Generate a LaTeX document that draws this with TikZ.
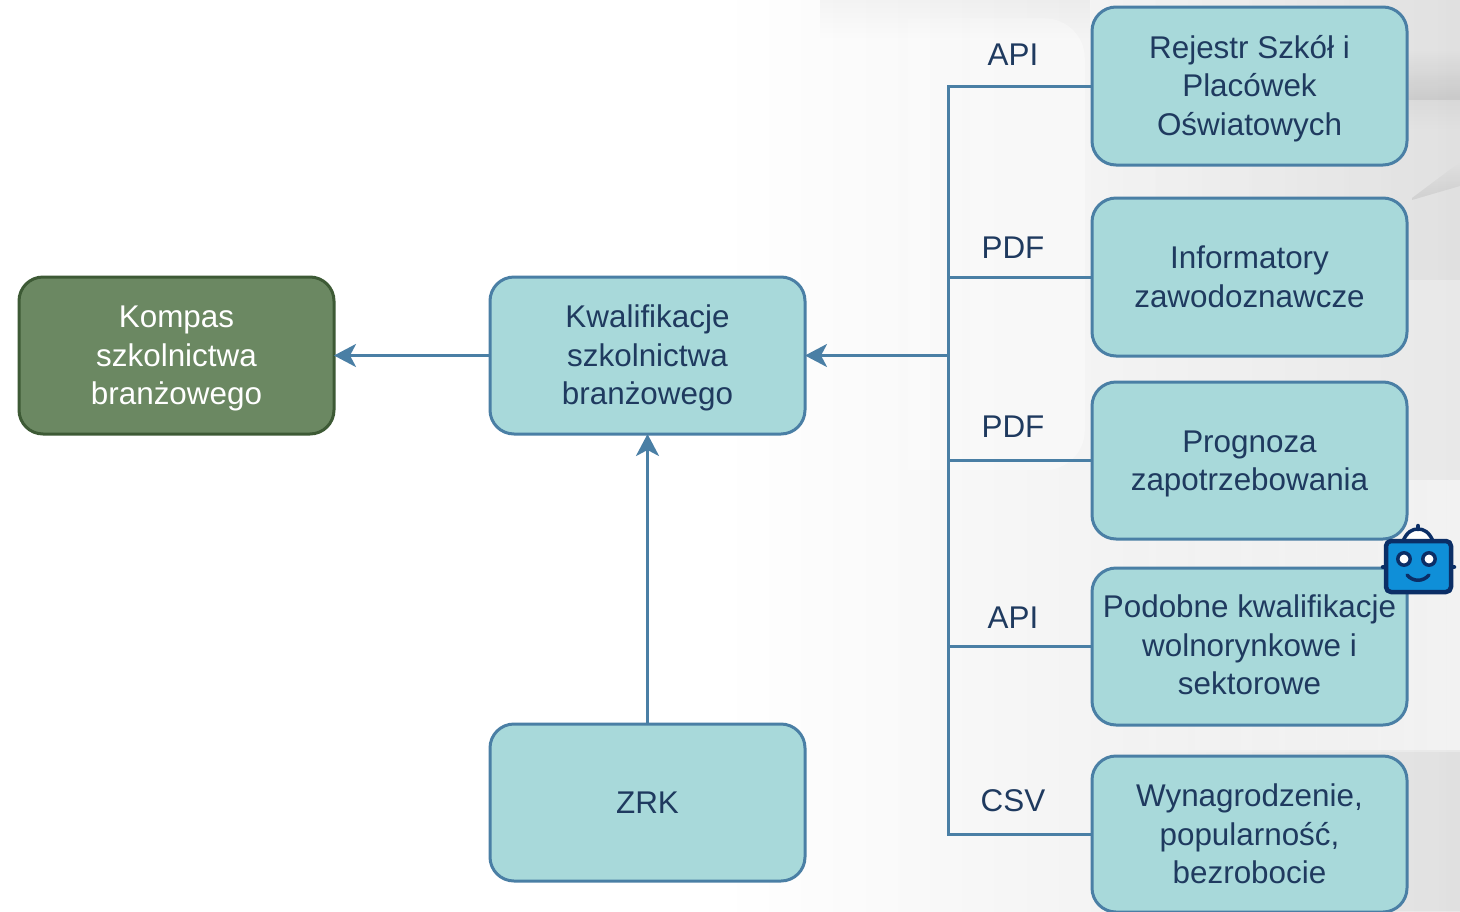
\documentclass[tikz,border=0pt]{standalone}
\usepackage{fontspec}
\setmainfont{Liberation Sans}
\usetikzlibrary{arrows.meta,fadings}
\definecolor{boxfill}{HTML}{A8D9DA}
\definecolor{boxline}{HTML}{4A7FA5}
\definecolor{txt}{HTML}{1F3A5F}
\definecolor{greenfill}{HTML}{6B8862}
\definecolor{greenline}{HTML}{3D5A35}
\definecolor{robotblue}{HTML}{0F8FD8}
\definecolor{robotdark}{HTML}{0B2E66}
\newcommand\pushdown[1]{\rule{0pt}{#1}}
\newcommand\pushup[1]{\rule[-#1]{0pt}{#1}}
\tikzset{
  x=1pt,y=-1pt,
  boxbase/.style={rounded corners=24pt,line width=3pt,minimum width=315pt,inner sep=0pt,align=center,
    font=\fontsize{31.4}{38.5}\selectfont},
  bluebox/.style={boxbase,draw=boxline,fill=boxfill,text=txt},
  greenbox/.style={boxbase,draw=greenline,fill=greenfill,text=white},
  conn/.style={draw=boxline,line width=3pt},
  arrowconn/.style={conn,shorten >=-1.5pt,-{Stealth[length=22pt,width=23pt,inset=6pt]}},
  fmtlabel/.style={text=txt,font=\fontsize{31.4}{38}\selectfont,inner sep=0pt},
  robotline/.style={draw=robotdark,line width=4.5pt,line cap=round,line join=round},
  softdark/.style={fill=black,draw=none,fill opacity=#1},
  softlight/.style={fill=white,draw=none,fill opacity=#1}
}
\begin{document}
\begin{tikzpicture}
\useasboundingbox (0,0) rectangle (1460,911);
\clip (0,0) rectangle (1460,911);
\fill[white] (0,0) rectangle (720,911);
% soft background forms
\shade[left color=white,right color=black!9] (720,0) rectangle (1460,911);
\fill[softlight=0.4,path fading=west,rounded corners=40pt] (780,18) rectangle (1085,470);
\fill[softdark=0.03,path fading=south] (820,0) rectangle (1090,40);
\fill[softdark=0.03,path fading=west] (1085,0) rectangle (1460,280);
\fill[softlight=0.45,path fading=west] (1085,480) rectangle (1460,750);
\fill[softdark=0.10,path fading=north] (1408,50) rectangle (1460,100);
\fill[softdark=0.03,path fading=south] (1408,100) rectangle (1460,130);
\fill[softdark=0.08,path fading=north] (1412,198) -- (1460,162) -- (1460,186) -- (1412,200) -- cycle;
\fill[softdark=0.03,path fading=west] (1090,752) rectangle (1460,911);

\node[greenbox,minimum height=157pt] (kompas) at (176.5,355.5) {\pushdown{28pt}Kompas\\szkolnictwa\\branżowego};
\node[bluebox,minimum height=157pt] (kwal) at (647.5,355.5) {\pushdown{28pt}Kwalifikacje\\szkolnictwa\\branżowego};
\node[bluebox,minimum height=157pt] (zrk) at (647.5,802.5) {ZRK};
\node[bluebox,minimum height=158pt] (rej) at (1249.5,86) {\pushdown{28pt}Rejestr Szkół i\\Placówek\\Oświatowych};
\node[bluebox,minimum height=158pt] (inf) at (1249.5,277) {Informatory\\zawodoznawcze};
\node[bluebox,minimum height=157pt] (pro) at (1249.5,460.5) {\pushdown{29pt}Prognoza\\zapotrzebowania};
\node[bluebox,minimum height=157pt] (pod) at (1249.5,646.5) {Podobne kwalifikacje\\wolnorynkowe i\\sektorowe\pushup{3pt}};
\node[bluebox,minimum height=156pt] (wyn) at (1249.5,834) {Wynagrodzenie,\\popularność,\\bezrobocie};

\coordinate (trunk) at (948,355.5);
\draw[conn] (rej.west) -| (trunk);
\draw[conn] (inf.west) -| (trunk);
\draw[conn] (pro.west) -| (trunk);
\draw[conn] (pod.west) -| (trunk);
\draw[conn] (wyn.west) -| (trunk);
\draw[arrowconn] (trunk) -- (kwal.east);
\draw[arrowconn] (kwal.west) -- (kompas.east);
\draw[arrowconn] (zrk.north) -- (kwal.south);

\node[fmtlabel] (l1) at (1013,55) {API};
\node[fmtlabel] (l2) at (1013,248) {PDF};
\node[fmtlabel] (l3) at (1013,427) {PDF};
\node[fmtlabel] (l4) at (1013,618) {API};
\node[fmtlabel] (l5) at (1013,801) {CSV};

% robot
\draw[robotline,line width=3.5pt,fill=white] (1403,541) .. controls (1407,532) and (1412,529) .. (1418,529) .. controls (1424,529) and (1429,532) .. (1433,541);
\draw[robotline] (1418,529) -- (1418,526);
\draw[robotline] (1383,567) -- (1386,567);
\draw[robotline] (1451,567) -- (1454,567);
\draw[robotline,fill=robotblue,rounded corners=5pt] (1386,541) rectangle (1451,592);
\draw[robotdark,line width=3.5pt,fill=white] (1404,559) circle (6.2);
\draw[robotdark,line width=3.5pt,fill=white] (1429,559) circle (6.2);
\draw[robotline,line width=3.5pt] (1407,575) .. controls (1413,582) and (1423,582) .. (1429,575);
\end{tikzpicture}
\end{document}
